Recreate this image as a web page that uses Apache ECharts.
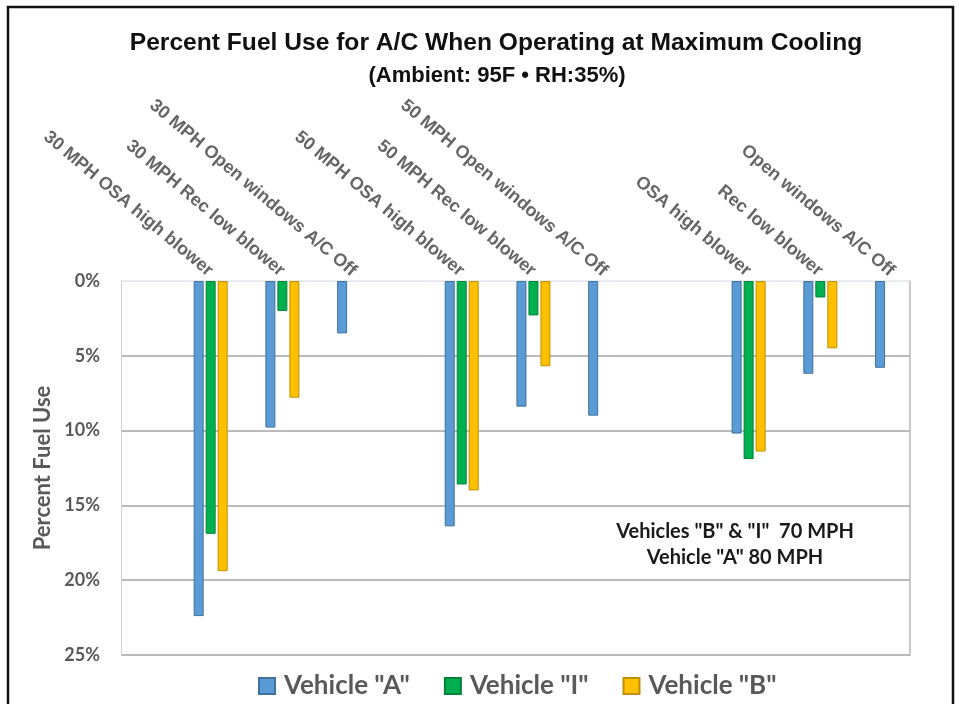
<!DOCTYPE html>
<html>
<head>
<meta charset="utf-8">
<script src="https://cdn.jsdelivr.net/npm/echarts@6/dist/echarts.min.js"></script>
<style>
html,body{margin:0;padding:0;background:#fff;}
#chart{width:959px;height:704px;}
</style>
</head>
<body>
<div id="chart"></div>
<script>
// Category slots (blank strings are empty spacer categories, as in the original chart)
const categories = [
  '', '', '30 MPH OSA high blower', '', '30 MPH Rec low blower', '', '30 MPH Open windows A/C Off',
  '', '', '50 MPH OSA high blower', '', '50 MPH Rec low blower', '', '50 MPH Open windows A/C Off',
  '', '', '', 'OSA high blower', '', 'Rec low blower', '', 'Open windows A/C Off'
];
const vehicleA = [null, null, 22.4, null, 9.8, null, 3.5, null, null, 16.4, null, 8.4, null, 9.0, null, null, null, 10.2, null, 6.2, null, 5.8];
const vehicleI = [null, null, 16.9, null, 2.0, null, null, null, null, 13.6, null, 2.3, null, null, null, null, null, 11.9, null, 1.1, null, null];
const vehicleB = [null, null, 19.4, null, 7.8, null, null, null, null, 14.0, null, 5.7, null, null, null, null, null, 11.4, null, 4.5, null, null];
const seriesNames = ['Vehicle "A"', 'Vehicle "I"', 'Vehicle "B"'];
const yTicks = { min: 0, max: 25, interval: 5 };

const chart = echarts.init(document.getElementById('chart'));
const grey = '#595959';
function bar(name, data, color, border) {
  return {
    name: name, type: 'bar', data: data, barWidth: 10, barGap: '20%',
    itemStyle: { color: color, borderColor: border, borderWidth: 1 }
  };
}
chart.setOption({
  backgroundColor: '#fff',
  animation: false,
  title: [{
    text: 'Percent Fuel Use for A/C When Operating at Maximum Cooling',
    left: 491, top: 26, textAlign: 'center',
    textStyle: { fontFamily: "'Liberation Sans',Arial", fontWeight: 'bold', fontSize: 24.6, color: '#111' }
  }, {
    text: '(Ambient: 95F \u2022 RH:35%)',
    left: 492, top: 60, textAlign: 'center',
    textStyle: { fontFamily: "'Liberation Sans',Arial", fontWeight: 'bold', fontSize: 22, color: '#111' }
  }],
  legend: {
    data: seriesNames,
    left: 258, top: 673, padding: 0,
    icon: 'rect',
    itemWidth: 16, itemHeight: 16, itemGap: 34,
    textStyle: { fontFamily: 'Lato', fontSize: 26, color: grey, fontWeight: 'bold', padding: [0, 0, 0, 4] }
  },
  grid: { left: 121, right: 49, top: 281, bottom: 49 },
  xAxis: {
    type: 'category', data: categories, position: 'top',
    axisTick: { show: false },
    axisLine: { show: true, lineStyle: { color: '#e3e9ef', width: 1 } },
    axisLabel: {
      interval: 0, rotate: -40, margin: 8,
      fontFamily: "'Liberation Sans',Arial", fontWeight: 'bold', fontSize: 18, color: '#666'
    }
  },
  yAxis: [{
    type: 'value', inverse: true, min: yTicks.min, max: yTicks.max, interval: yTicks.interval,
    name: 'Percent Fuel Use', nameLocation: 'middle', nameGap: 62, nameRotate: 90,
    nameTextStyle: { fontFamily: 'Lato', fontWeight: 'bold', fontSize: 22, color: grey },
    axisLine: { show: true, lineStyle: { color: '#cfcfcf', width: 1 } },
    axisTick: { show: false },
    axisLabel: { formatter: '{value}%', margin: 21, fontFamily: 'Lato', fontWeight: 'bold', fontSize: 18, color: grey },
    splitLine: { show: true, lineStyle: { color: ['#e3e9ef', '#a3a3a3', '#a3a3a3', '#a3a3a3', '#a3a3a3', '#a3a3a3'], width: 1.5 } }
  }, {
    type: 'value', inverse: true, min: yTicks.min, max: yTicks.max, interval: yTicks.interval, position: 'right',
    axisLine: { show: true, lineStyle: { color: '#b5b5b5', width: 1.5 } },
    axisTick: { show: false }, axisLabel: { show: false }, splitLine: { show: false }
  }],
  series: [
    bar(seriesNames[0], vehicleA, '#5B9BD5', '#41719C'),
    bar(seriesNames[1], vehicleI, '#00B050', '#00843b'),
    bar(seriesNames[2], vehicleB, '#FFC000', '#BF9000')
  ],
  graphic: [{
    type: 'rect', z: 100, silent: true,
    shape: { x: 8, y: 7, width: 945, height: 720 },
    style: { fill: 'none', stroke: '#111', lineWidth: 2.5 }
  }, {
    type: 'text', z: 50, silent: true,
    x: 735, y: 519,
    style: {
      text: 'Vehicles "B" & "I"  70 MPH\nVehicle "A" 80 MPH',
      align: 'center', verticalAlign: 'top',
      fontFamily: 'Lato', fontWeight: 'bold', fontSize: 20, fill: '#1a1a1a', lineHeight: 26
    }
  }]
});
</script>
</body>
</html>
